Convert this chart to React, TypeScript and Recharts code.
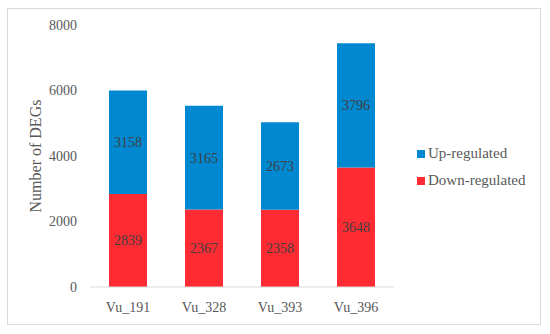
import React from 'react';
import { BarChart, Bar, XAxis, YAxis, LabelList } from 'recharts';

// Valores
const muestras = ['Vu_191', 'Vu_328', 'Vu_393', 'Vu_396'];
const abajo = [2839, 2367, 2358, 3648];
const arriba = [3158, 3165, 2673, 3796];
const ticksY = [0, 2000, 4000, 6000, 8000];
const series = [
  { key: 'up', nombre: 'Up-regulated', color: '#0088d1' },
  { key: 'down', nombre: 'Down-regulated', color: '#ff2b32' },
];

const datos = muestras.map((m, i) => ({
  muestra: m,
  down: abajo[i],
  up: arriba[i],
}));

const FUENTE = '"Liberation Serif", serif';

export default function App() {
  return (
    <div
      style={{
        position: 'absolute',
        left: 0,
        top: 0,
        width: 550,
        height: 334,
        background: '#fff',
        fontFamily: FUENTE,
      }}
    >
      <style>{`svg text, svg tspan { font-family: "Liberation Serif", serif !important; }`}</style>
      <div
        style={{
          position: 'absolute',
          left: 7,
          top: 8,
          width: 532,
          height: 315,
          border: '1px solid #d9d9d9',
        }}
      />
      <BarChart
        width={550}
        height={334}
        data={datos}
        margin={{ top: 25, right: 156, bottom: 17, left: 0 }}
        barCategoryGap="25%"
      >
        <XAxis
          dataKey="muestra"
          height={30}
          tickLine={false}
          tickSize={5}
          tickMargin={10}
          axisLine={{ stroke: '#d9d9d9' }}
          tick={{ fill: '#595959', fontSize: 14, fontFamily: FUENTE }}
        />
        <YAxis
          width={90}
          domain={[0, 8000]}
          ticks={ticksY}
          axisLine={false}
          tickLine={false}
          tickSize={5}
          tickMargin={8}
          tick={{ fill: '#595959', fontSize: 14, fontFamily: FUENTE }}
          label={{
            value: 'Number of DEGs',
            angle: -90,
            position: 'insideLeft',
            offset: 35,
            textAnchor: 'middle',
            style: { fill: '#595959', fontSize: 16, textAnchor: 'middle' },
          }}
        />
        <Bar
          dataKey="down"
          name="Down-regulated"
          stackId="a"
          fill={series[1].color}
          isAnimationActive={false}
        >
          <LabelList dataKey="down" position="center" fill="#404040" fontSize={14} fontFamily={FUENTE} />
        </Bar>
        <Bar
          dataKey="up"
          name="Up-regulated"
          stackId="a"
          fill={series[0].color}
          isAnimationActive={false}
        >
          <LabelList dataKey="up" position="center" fill="#404040" fontSize={14} fontFamily={FUENTE} />
        </Bar>
      </BarChart>

      {/* Leyenda a la derecha */}
      <div
        style={{
          position: 'absolute',
          left: 417,
          top: 140,
          fontSize: 15,
          color: '#595959',
        }}
      >
        {series.map((s) => (
          <div key={s.key} style={{ display: 'flex', alignItems: 'center', height: 27 }}>
            <span
              style={{
                display: 'inline-block',
                width: 8,
                height: 8,
                background: s.color,
                marginRight: 3,
              }}
            />
            <span>{s.nombre}</span>
          </div>
        ))}
      </div>
    </div>
  );
}
